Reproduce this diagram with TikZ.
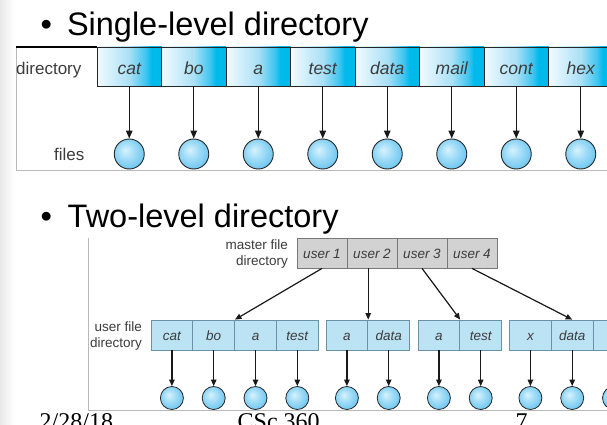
\documentclass[tikz,border=0pt]{standalone}
\usepackage{fontspec}
\setmainfont{Liberation Sans}
\newfontfamily\footserif{Liberation Serif}
\usetikzlibrary{arrows.meta,calc}

\definecolor{cA}{RGB}{242,251,255}
\definecolor{cB}{RGB}{170,224,246}
\definecolor{cC}{RGB}{60,196,240}
\definecolor{cD}{RGB}{0,186,236}
\definecolor{fA}{RGB}{215,242,253}
\definecolor{fB}{RGB}{160,220,247}
\definecolor{fC}{RGB}{105,196,240}
\definecolor{ufill}{RGB}{188,227,244}
\definecolor{udraw}{RGB}{105,145,168}
\definecolor{mfill}{RGB}{210,210,210}
\definecolor{mdraw}{RGB}{120,120,120}
\definecolor{labtxt}{RGB}{60,60,60}
\definecolor{framegray}{RGB}{185,185,185}

\pgfdeclarehorizontalshading{cellshade}{100bp}{color(0bp)=(cA); color(25bp)=(cA); color(50bp)=(cB); color(63bp)=(cC); color(67bp)=(cD); color(100bp)=(cD)}
\pgfdeclareradialshading{fileshade}{\pgfpoint{-7bp}{7bp}}{color(0bp)=(fA); color(14bp)=(fB); color(30bp)=(fC); color(50bp)=(fC)}

\tikzset{
  topcell/.style={draw=black!85, line width=0.9pt, shading=cellshade, minimum width=64.5pt, minimum height=39pt, inner sep=0pt, text height=16pt, text depth=0pt, font=\fontsize{17.5}{17.5}\selectfont\itshape, text=labtxt},
  filecirc/.style={circle, draw=black!85, line width=0.9pt, shading=fileshade, minimum size=30pt, inner sep=0pt},
  ucirc/.style={circle, draw=black!85, line width=0.8pt, shading=fileshade, minimum size=23pt, inner sep=0pt},
  arr/.style={draw=black!90, line width=1.3pt, -{Triangle[length=8pt,width=6.5pt]}},
  arrs/.style={draw=black!90, line width=1.2pt, -{Triangle[length=6.5pt,width=5.5pt]}},
  ucell/.style={fill=ufill, draw=udraw, line width=0.8pt, minimum width=41.8pt, minimum height=30pt, inner sep=0pt, text height=10.5pt, text depth=0pt, font=\fontsize{13.5}{13.5}\selectfont\itshape, text=labtxt},
  mcell/.style={fill=mfill, draw=mdraw, line width=0.8pt, minimum width=50pt, minimum height=30pt, inner sep=0pt, text height=10.5pt, text depth=0pt, font=\fontsize{13.5}{13.5}\selectfont\itshape, text=labtxt},
  lab/.style={inner sep=0pt, text=labtxt},
  frameline/.style={draw=framegray, line width=0.8pt},
  title/.style={inner sep=0pt, anchor=base west, font=\fontsize{32.5}{36}\selectfont},
  foot/.style={inner sep=0pt, anchor=base west, font=\footserif\fontsize{24}{26}\selectfont},
}

\begin{document}
\begin{tikzpicture}[x=1pt,y=-1pt]
\useasboundingbox (0,0) rectangle (607,425);
\clip (0,0) rectangle (607,425);
\fill[white] (0,0) rectangle (607,425);
\shade[left color=black!9, right color=white] (0,0) rectangle (14,425);

% ---------- titles ----------
\node[title] (b1) at (40.5,36) {•};
\node[title] (t1) at (66.8,36) {Single-level directory};
\node[title] (b2) at (40.5,227.5) {•};
\node[title] (t2) at (67.5,227.5) {Two-level directory};

% ---------- single-level ----------
\draw[frameline] (16,47) -- (16,170) -- (620,170);
\draw[black, line width=1.2pt] (16,47) -- (620,47);
\node[lab, anchor=base west, font=\fontsize{17}{17}\selectfont] (dirlab) at (16,75) {directory};
\node[lab, anchor=base east, font=\fontsize{17}{17}\selectfont] (fileslab) at (84.5,160) {files};

\foreach \t [count=\i] in {cat,bo,a,test,data,mail,cont,hex}{
  \node[topcell] (c\i) at ({97+64.5*(\i-0.5)},66.5) {\t};
  \node[filecirc] (f\i) at ({97+64.5*(\i-0.5)},154) {};
  \draw[arr] (c\i.south) -- (f\i.north);
}

% ---------- two-level ----------
\draw[frameline] (88,238) -- (88,410) -- (620,410);

\node[lab, align=right, anchor=east, font=\fontsize{13.5}{16}\selectfont] (mlab) at (288,254.5) {master file\\directory};
\node[lab, align=right, anchor=east, font=\fontsize{13.5}{15.5}\selectfont] (ulab) at (142,336) {user file\\directory};

\foreach \t [count=\i] in {user 1,user 2,user 3,user 4}{
  \node[mcell] (m\i) at ({297+50*(\i-0.5)},253) {\t};
}

% user directories: name / x-center / label
\foreach \n/\x/\t in {u1a/171.9/cat, u1b/213.7/bo, u1c/255.5/a, u1d/297.3/test,
                      u2a/346.9/a, u2b/388.7/data,
                      u3a/438.9/a, u3b/480.7/test,
                      u4a/530.4/x, u4b/572.2/data, u4c/614/{}}{
  \node[ucell] (\n) at (\x,335) {\t};
  \node[ucirc] (o\n) at (\x,398) {};
  \draw[arrs] (\n.south) -- (o\n.north);
}

\draw[arrs] (m1.south) -- (u1b.north east);
\draw[arrs] (m2.south -| u2a.north east) -- (u2a.north east);
\draw[arrs] (m3.south) -- (u3a.north east);
\draw[arrs] (m4.south) -- (u4b.north);

% ---------- footer ----------
\node[foot] (date) at (39.5,429.5) {2/28/18};
\node[foot] (course) at (237.5,429.5) {CSc 360};
\node[foot] (page) at (515.5,429.5) {7};
\end{tikzpicture}
\end{document}
